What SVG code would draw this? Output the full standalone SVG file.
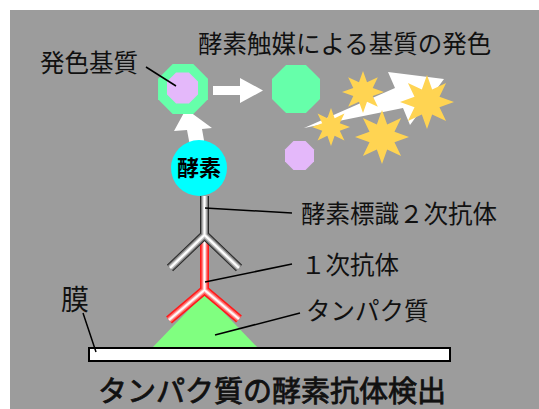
<svg xmlns="http://www.w3.org/2000/svg" xmlns:xlink="http://www.w3.org/1999/xlink" width="539" height="409" viewBox="0 0 539 409">
  <style>
    .lbl { font-family: "Noto Sans CJK JP", "Noto Sans CJK SC", sans-serif; font-size: 24.5px; fill: #111; }
    .title { font-family: "Noto Sans CJK JP", "Noto Sans CJK SC", sans-serif; font-size: 29px; fill: #111; stroke: #111; stroke-width: 0.8; }
    .enz { font-family: "Noto Sans CJK JP", "Noto Sans CJK SC", sans-serif; font-size: 22px; font-weight: bold; fill: #000; }
    .lead { stroke: #000; stroke-width: 1.5; fill: none; }
    .tube { fill: none; stroke-linecap: butt; stroke-linejoin: miter; }
    .g1 { stroke: #2a2a2a; stroke-width: 9; }
    .g2 { stroke: #7a7a7a; stroke-width: 7; }
    .g3 { stroke: #c4c4c4; stroke-width: 4.5; }
    .g4 { stroke: #ffffff; stroke-width: 2; }
    .r1 { stroke: #ff1a1a; stroke-width: 9; }
    .r2 { stroke: #ff6a6a; stroke-width: 6; }
    .r3 { stroke: #ffc4c4; stroke-width: 3.5; }
    .r4 { stroke: #ffffff; stroke-width: 1.5; }
    .mint { fill: #66ffaa; }
    .lilac { fill: #e4b8fa; }
    .spark { fill: #ffd452; }
    .wht { fill: #ffffff; }
  </style>
  <defs>
    <!-- unit regular octagon with flat sides -->
    <polygon id="oct" points="0.9239,0.3827 0.3827,0.9239 -0.3827,0.9239 -0.9239,0.3827 -0.9239,-0.3827 -0.3827,-0.9239 0.3827,-0.9239 0.9239,-0.3827"/>
    <!-- unit eight-pointed star -->
    <polygon id="star8" points="0,-1 .1913,-.4619 .7071,-.7071 .4619,-.1913 1,0 .4619,.1913 .7071,.7071 .1913,.4619 0,1 -.1913,.4619 -.7071,.7071 -.4619,.1913 -1,0 -.4619,-.1913 -.7071,-.7071 -.1913,-.4619"/>
    <!-- antibody shapes (stem + Y arms) -->
    <path id="ab2" d="M204.5,196 V235 M170,268 L204.5,235 L239,268"/>
    <path id="ab1" d="M204.5,235 V290 M169,320 L204.5,290 L239,319"/>
  </defs>

  <!-- backdrop -->
  <rect x="10" y="10" width="529" height="399" fill="#9c9c9c"/>

  <!-- target protein on the membrane -->
  <g id="protein">
    <polygon points="205,293 152,348 258,348" fill="#80ff80"/>
    <text class="lbl" x="306" y="320">タンパク質</text>
  </g>

  <g id="membrane">
    <rect x="89" y="348" width="361" height="13" fill="#ffffff" stroke="#000" stroke-width="2"/>
    <text class="lbl" x="61" y="310" style="font-size:28px">膜</text>
  </g>

  <!-- primary antibody (red) -->
  <g id="primary-antibody" class="tube">
    <use xlink:href="#ab1" class="r1"/>
    <use xlink:href="#ab1" class="r2"/>
    <use xlink:href="#ab1" class="r3"/>
    <use xlink:href="#ab1" class="r4"/>
    <text class="lbl" x="301" y="274" style="stroke:none">１次抗体</text>
  </g>

  <!-- enzyme-labelled secondary antibody (grey) -->
  <g id="secondary-antibody" class="tube">
    <use xlink:href="#ab2" class="g1"/>
    <use xlink:href="#ab2" class="g2"/>
    <use xlink:href="#ab2" class="g3"/>
    <use xlink:href="#ab2" class="g4"/>
    <text class="lbl" x="301" y="223" style="stroke:none">酵素標識２次抗体</text>
  </g>

  <!-- arrow from enzyme to substrate -->
  <g id="arrow-up">
    <polygon class="wht" points="186,109 212,128 202,129 205,146 190,146 187,130 174,131"/>
  </g>

  <!-- enzyme -->
  <g id="enzyme">
    <circle cx="199" cy="168" r="28" fill="#00ffff"/>
    <text class="enz" x="199" y="175.5" text-anchor="middle">酵素</text>
  </g>

  <!-- chromogenic substrate -->
  <g id="substrate">
    <use xlink:href="#oct" class="mint" transform="translate(183 89) scale(27)"/>
    <use xlink:href="#oct" class="lilac" transform="translate(182.5 88) scale(16.8)"/>
    <text class="lbl" x="40" y="72">発色基質</text>
  </g>

  <g id="arrow-right">
    <polygon class="wht" points="213,86 240,86 240,78 263,90.5 240,103 240,95 213,95"/>
  </g>

  <!-- substrate after reaction -->
  <g id="product">
    <use xlink:href="#oct" class="mint" transform="translate(296 89) scale(26)"/>
    <use xlink:href="#oct" class="lilac" transform="translate(299.5 155.5) scale(15.7)"/>
  </g>

  <!-- colour development burst -->
  <g id="color-burst">
    <polygon class="wht" points="304,128 395,88 388,72 444,79 410,125 403,108"/>
    <use xlink:href="#star8" class="spark" transform="translate(363 92) scale(21)"/>
    <use xlink:href="#star8" class="spark" transform="translate(331 127) scale(19)"/>
    <use xlink:href="#star8" class="spark" transform="translate(382 137) scale(27)"/>
    <use xlink:href="#star8" class="spark" transform="translate(427 102) scale(27)"/>
  </g>

  <g id="heading">
    <text class="lbl" x="198" y="53">酵素触媒による基質の発色</text>
  </g>

  <g id="caption">
    <text class="title" x="98" y="402">タンパク質の酵素抗体検出</text>
  </g>

  <!-- leader lines -->
  <g id="connectors">
    <line class="lead" x1="146" y1="67" x2="176" y2="86"/>
    <line class="lead" x1="205" y1="208" x2="292" y2="213"/>
    <line class="lead" x1="205" y1="282" x2="292" y2="264"/>
    <line class="lead" x1="215" y1="335" x2="300" y2="313"/>
    <line class="lead" x1="83" y1="313" x2="96" y2="352"/>
  </g>
</svg>
